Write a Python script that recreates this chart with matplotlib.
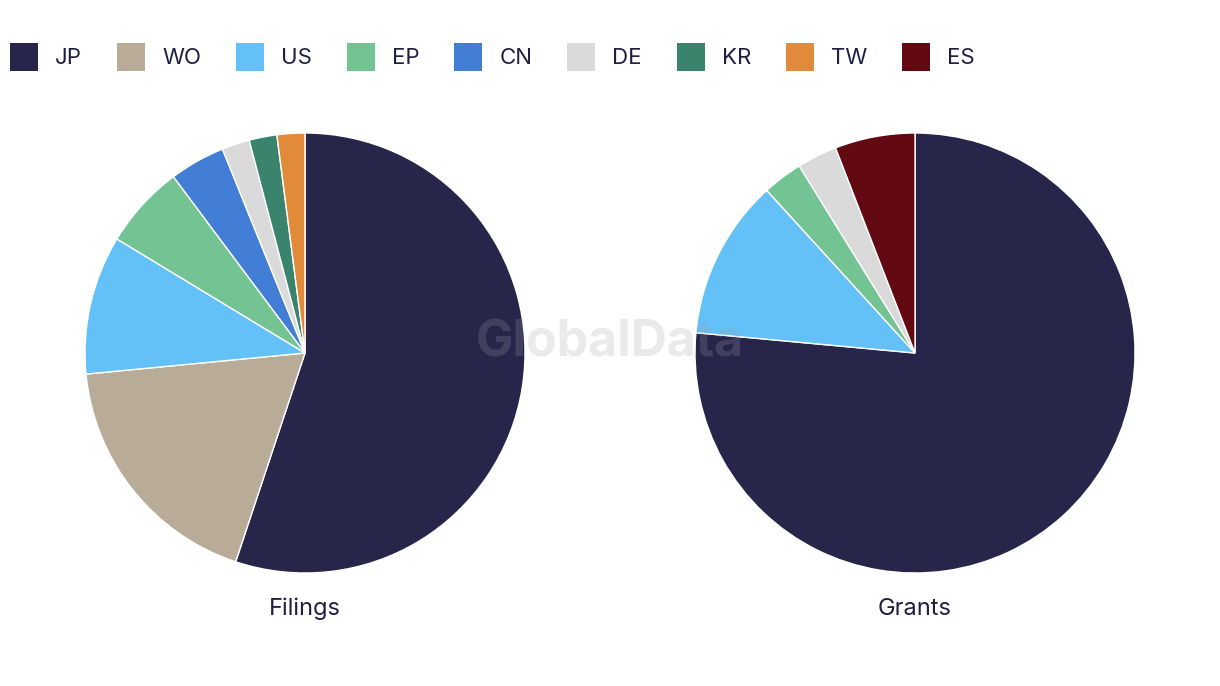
import matplotlib
matplotlib.use("Agg")
import matplotlib.pyplot as plt
from matplotlib.patches import Patch

legend_labels = ["JP", "WO", "US", "EP", "CN", "DE", "KR", "TW", "ES"]
colors = {"JP": "#27264a", "WO": "#b8ab97", "US": "#63c1f8", "EP": "#74c393",
          "CN": "#427ed6", "DE": "#dadada", "KR": "#3a836c", "TW": "#e08a3a",
          "ES": "#620912"}

filings_cats = ["JP", "WO", "US", "EP", "CN", "DE", "KR", "TW"]
filings_vals = [27, 9, 5, 3, 2, 1, 1, 1]

grants_cats = ["JP", "US", "EP", "DE", "ES"]
grants_vals = [26, 4, 1, 1, 2]

plt.rcParams['font.family'] = ['Inter', 'DejaVu Sans']
text_color = "#1f2041"

fig = plt.figure(figsize=(12.2, 6.86), dpi=100)
W, H = 1220, 686
R = 220

def make_ax(cx, cy):
    return fig.add_axes([(cx - R) / W, (H - cy - R) / H, 2 * R / W, 2 * R / H])

for cx, cats, vals, title in [(305, filings_cats, filings_vals, "Filings"),
                              (915, grants_cats, grants_vals, "Grants")]:
    ax = make_ax(cx, 353)
    ax.pie(vals, colors=[colors[c] for c in cats], startangle=90, counterclock=False,
           radius=1.0, wedgeprops=dict(edgecolor="white", linewidth=1.0))
    ax.set_xlim(-1, 1)
    ax.set_ylim(-1, 1)
    ax.set_aspect("equal")
    ax.axis("off")
    fig.text(cx / W, 1 - 609 / H, title, ha="center", va="center",
             fontsize=17, color=text_color)

handles = [Patch(facecolor=colors[c], edgecolor="none", label=c) for c in legend_labels]
fs = 16
px = fs * 100 / 72
hh = (28 / px - 0.245) / 0.65
fig.legend(handles=handles, loc="center left", bbox_to_anchor=(10 / W, 1 - 57 / H),
           ncol=9, frameon=False, fontsize=fs, handlelength=28 / px, handleheight=hh,
           handletextpad=17 / px, columnspacing=35 / px, labelcolor=text_color,
           borderaxespad=0, borderpad=0)

fig.text(610 / W, 1 - 343 / H, "GlobalData", ha="center", va="center",
         fontsize=36, fontweight="bold", color="#a0a0a8", alpha=0.22, zorder=10)

fig.savefig("out.png", dpi=100, facecolor="white")
